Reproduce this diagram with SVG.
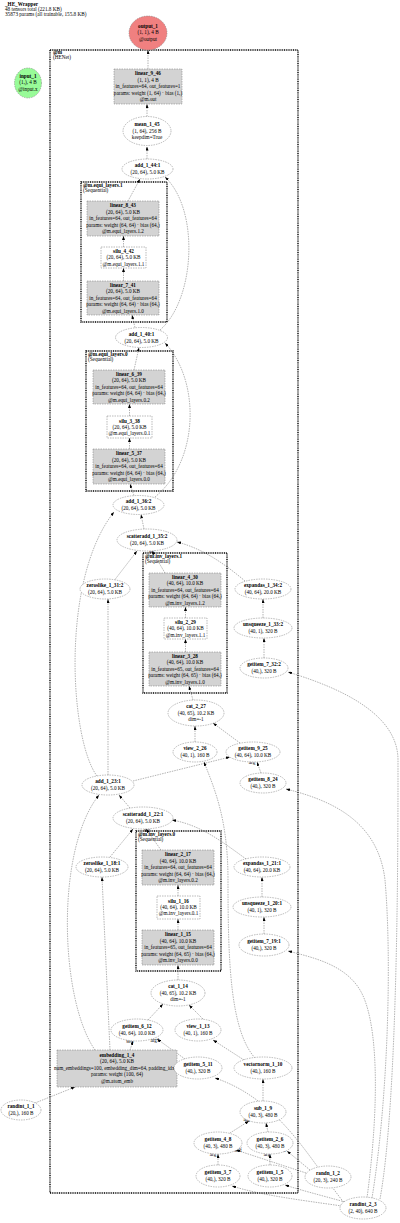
<svg xmlns="http://www.w3.org/2000/svg" width="400" height="1223" viewBox="0 0 400 1223">
<style>
text{font-family:"Liberation Serif","Times New Roman",serif;font-size:5.2px;fill:#000}
.m{text-anchor:middle}
.b{font-weight:bold}
.l{font-size:3.6px}
.n{fill:#fff;stroke:#777;stroke-width:.5;stroke-dasharray:1.5,1}
.g{fill:#d3d3d3}
.c{fill:none;stroke:#000;stroke-width:1.4;stroke-dasharray:1,.8}
.e path{fill:none;stroke:#555;stroke-width:.45;stroke-dasharray:1.5,1;marker-end:url(#a)}
</style>
<defs>
<marker id="a" markerUnits="userSpaceOnUse" markerWidth="4" markerHeight="3" refX="4" refY="1.5" orient="auto"><path d="M0,0L4,1.5L0,3z" fill="#000"/></marker>
</defs>
<rect width="400" height="1223" fill="#fff"/>
<g id="header">
<text x="5" y="5.5" class="b">_HE_Wrapper</text>
<text x="5" y="10.5">48 tensors total (221.8 KB)</text>
<text x="5" y="15.5">35873 params (all trainable, 155.8 KB)</text>
</g>
<g id="clusters">
<rect class="c" x="50" y="50" width="248" height="1143"/>
<text x="53" y="54.3" class="b">@m</text><text x="53" y="58.7">(HENet)</text>
<rect class="c" x="81" y="182" width="86" height="140"/>
<text x="83" y="187.3" class="b">@m.equi_layers.1</text><text x="83" y="191.7">(Sequential)</text>
<rect class="c" x="86" y="351" width="87" height="140"/>
<text x="88" y="356.3" class="b">@m.equi_layers.0</text><text x="88" y="360.7">(Sequential)</text>
<rect class="c" x="143" y="553" width="84" height="140"/>
<text x="145" y="558.3" class="b">@m.inv_layers.1</text><text x="145" y="562.7">(Sequential)</text>
<rect class="c" x="136" y="831" width="85" height="140"/>
<text x="138" y="836.3" class="b">@m.inv_layers.0</text><text x="138" y="840.7">(Sequential)</text>
</g>
<g class="e" id="edges">
<path d="M148,69L148,50"/>
<path d="M147,116.5L147,104"/>
<path d="M147,159L147,146.5"/>
<path d="M128,201L140,179"/>
<path d="M123.5,247L123.5,236"/>
<path d="M123.5,281L123.5,268"/>
<path d="M135,327.5L132,315"/>
<path d="M160,330C195,300 200,210 165,177"/>
<path d="M134,370L139,347.5"/>
<path d="M129.5,416L129.5,404"/>
<path d="M129.5,449L129.5,438"/>
<path d="M134,495.5L130,484"/>
<path d="M155,497C200,460 200,380 165,343"/>
<path d="M144,529L141,514.5"/>
<path d="M115,579.5L137,551"/>
<path d="M165,573L152,551"/>
<path d="M245,581C220,560 200,548 177,542"/>
<path d="M263,618L263,599"/>
<path d="M264,658L264,638"/>
<path d="M380,1199C398,1100 398,850 398,760C398,710 330,685 288,672"/>
<path d="M185.5,652L185.5,639"/>
<path d="M185.5,618L185.5,607"/>
<path d="M193,700L189,686"/>
<path d="M195,742L195,726"/>
<path d="M240,743L213,723"/>
<path d="M133,781L230,757"/>
<path d="M261,773L257,762"/>
<path d="M372,1198C388,1100 392,960 385,880C378,820 330,800 286,789"/>
<path d="M108,775L108,599"/>
<path d="M97,776C70,740 60,580 114,512"/>
<path d="M255,1058C230,1030 228,960 228,880C228,820 215,790 204,762"/>
<path d="M130,808L119,795"/>
<path d="M110,857L133,829"/>
<path d="M161,850L146,829"/>
<path d="M246,859C220,840 200,825 172,820"/>
<path d="M262,897L262,877"/>
<path d="M264,934L264,917"/>
<path d="M367,1198C380,1100 378,1020 360,990C345,965 315,958 288,951"/>
<path d="M178,930L178,919"/>
<path d="M178,896L178,885"/>
<path d="M178,980L178,965"/>
<path d="M148,1020L163,1004"/>
<path d="M203,1019L189,1005"/>
<path d="M130,1050L133,1041"/>
<path d="M185,1059L157,1039"/>
<path d="M244,1060L213,1040"/>
<path d="M95,1050C60,1000 55,850 99,795"/>
<path d="M110,1050L102,877"/>
<path d="M35,1103L75,1087"/>
<path d="M345,1204C310,1160 280,1100 215,1078"/>
<path d="M263,1101L263,1079"/>
<path d="M230,1133L249,1121"/>
<path d="M268,1132L266,1123"/>
<path d="M218,1165L218,1154"/>
<path d="M270,1165L270,1154"/>
<path d="M306,1173L236,1150"/>
<path d="M310,1170L287,1151"/>
<path d="M342,1206C300,1200 260,1195 232,1186"/>
<path d="M345,1202C320,1195 300,1190 285,1185"/>
</g>
<g id="edge-labels" class="l">
<text x="152" y="553" class="m">src</text>
<text x="147" y="832" class="m">src</text>
<text x="252" y="764" class="m">arg</text>
<text x="130" y="1043" class="m">self</text>
<text x="155" y="1042" class="m">arg1</text>
<text x="248" y="1121" class="m">arg0</text>
<text x="262" y="1122" class="m">arg1</text>
<text x="213" y="1156" class="m">arg</text>
<text x="267" y="1156" class="m">arg</text>
<text x="238" y="1152" class="m">self</text>
<text x="282" y="1152" class="m">self</text>
</g>
<g id="output_1"><ellipse cx="148" cy="33" rx="19" ry="17" class="n" style="fill:#f08080"/>
<text x="148" y="27.7" class="m b">output_1</text><text x="148" y="34.3" class="m">(1, 1), 4 B</text><text x="148" y="40.9" class="m">@output</text></g>
<g id="input_1"><ellipse cx="28" cy="83" rx="13.5" ry="15" class="n" style="fill:#98fb98"/>
<text x="28" y="78" class="m b">input_1</text><text x="28" y="84.4" class="m">(1,), 4 B</text><text x="28" y="90.8" class="m">@input.x</text></g>
<g id="linear_9_46"><rect x="114" y="69" width="68" height="35" class="n g"/>
<text x="148" y="75.3" class="m b">linear_9_46</text><text x="148" y="81.7" class="m">(1, 1), 4 B</text><text x="148" y="88.1" class="m">in_features=64, out_features=1</text><text x="148" y="94.5" class="m">params: weight (1, 64) · bias (1,)</text><text x="148" y="100.9" class="m">@m.out</text></g>
<g id="mean_1_45"><ellipse cx="147" cy="131" rx="24" ry="14.5" class="n"/>
<text x="147" y="126" class="m b">mean_1_45</text><text x="147" y="132.6" class="m">(1, 64), 256 B</text><text x="147" y="139.2" class="m">keepdim=True</text></g>
<g id="add_1_44"><ellipse cx="147.5" cy="169" rx="25.5" ry="10" class="n"/>
<text x="147.5" y="167.3" class="m b">add_1_44:1</text><text x="147.5" y="174" class="m">(20, 64), 5.0 KB</text></g>
<g id="linear_8_43"><rect x="87" y="201" width="72" height="35" class="n g"/>
<text x="123" y="207.3" class="m b">linear_8_43</text><text x="123" y="213.7" class="m">(20, 64), 5.0 KB</text><text x="123" y="220.1" class="m">in_features=64, out_features=64</text><text x="123" y="226.5" class="m">params: weight (64, 64) · bias (64,)</text><text x="123" y="232.9" class="m">@m.equi_layers.1.2</text></g>
<g id="silu_4_42"><rect x="101" y="247" width="45" height="21" class="n"/>
<text x="123.5" y="253" class="m b">silu_4_42</text><text x="123.5" y="259.3" class="m">(20, 64), 5.0 KB</text><text x="123.5" y="265.6" class="m">@m.equi_layers.1.1</text></g>
<g id="linear_7_41"><rect x="87" y="281" width="72" height="34" class="n g"/>
<text x="123" y="287" class="m b">linear_7_41</text><text x="123" y="293.4" class="m">(20, 64), 5.0 KB</text><text x="123" y="299.8" class="m">in_features=64, out_features=64</text><text x="123" y="306.2" class="m">params: weight (64, 64) · bias (64,)</text><text x="123" y="312.6" class="m">@m.equi_layers.1.0</text></g>
<g id="add_1_40"><ellipse cx="141.5" cy="337.5" rx="26" ry="10" class="n"/>
<text x="141.5" y="335.8" class="m b">add_1_40:1</text><text x="141.5" y="342.5" class="m">(20, 64), 5.0 KB</text></g>
<g id="linear_6_39"><rect x="93" y="370" width="72" height="34" class="n g"/>
<text x="129" y="376" class="m b">linear_6_39</text><text x="129" y="382.4" class="m">(20, 64), 5.0 KB</text><text x="129" y="388.8" class="m">in_features=64, out_features=64</text><text x="129" y="395.2" class="m">params: weight (64, 64) · bias (64,)</text><text x="129" y="401.6" class="m">@m.equi_layers.0.2</text></g>
<g id="silu_3_38"><rect x="107" y="416" width="45" height="22" class="n"/>
<text x="129.5" y="422.5" class="m b">silu_3_38</text><text x="129.5" y="428.8" class="m">(20, 64), 5.0 KB</text><text x="129.5" y="435.1" class="m">@m.equi_layers.0.1</text></g>
<g id="linear_5_37"><rect x="93" y="449" width="72" height="35" class="n g"/>
<text x="129" y="455.3" class="m b">linear_5_37</text><text x="129" y="461.7" class="m">(20, 64), 5.0 KB</text><text x="129" y="468.1" class="m">in_features=64, out_features=64</text><text x="129" y="474.5" class="m">params: weight (64, 64) · bias (64,)</text><text x="129" y="480.9" class="m">@m.equi_layers.0.0</text></g>
<g id="add_1_36"><ellipse cx="138.5" cy="505" rx="25.5" ry="9.5" class="n"/>
<text x="138.5" y="503.3" class="m b">add_1_36:2</text><text x="138.5" y="510" class="m">(20, 64), 5.0 KB</text></g>
<g id="scatteradd_1_35"><ellipse cx="147" cy="540" rx="30" ry="11" class="n"/>
<text x="147" y="538.3" class="m b">scatteradd_1_35:2</text><text x="147" y="545" class="m">(20, 64), 5.0 KB</text></g>
<g id="zeroslike_1_31"><ellipse cx="105" cy="589" rx="25" ry="10" class="n"/>
<text x="105" y="587.3" class="m b">zeroslike_1_31:2</text><text x="105" y="594" class="m">(20, 64), 5.0 KB</text></g>
<g id="expandas_1_34"><ellipse cx="263" cy="589" rx="28" ry="10" class="n"/>
<text x="263" y="587.3" class="m b">expandas_1_34:2</text><text x="263" y="594" class="m">(40, 64), 20.0 KB</text></g>
<g id="linear_4_30"><rect x="149" y="573" width="72" height="34" class="n g"/>
<text x="185" y="579" class="m b">linear_4_30</text><text x="185" y="585.4" class="m">(40, 64), 10.0 KB</text><text x="185" y="591.8" class="m">in_features=64, out_features=64</text><text x="185" y="598.2" class="m">params: weight (64, 64) · bias (64,)</text><text x="185" y="604.6" class="m">@m.inv_layers.1.2</text></g>
<g id="silu_2_29"><rect x="164" y="618" width="43" height="21" class="n"/>
<text x="185.5" y="624" class="m b">silu_2_29</text><text x="185.5" y="630.3" class="m">(40, 64), 10.0 KB</text><text x="185.5" y="636.6" class="m">@m.inv_layers.1.1</text></g>
<g id="linear_3_28"><rect x="149" y="652" width="72" height="34" class="n g"/>
<text x="185" y="658" class="m b">linear_3_28</text><text x="185" y="664.4" class="m">(40, 64), 10.0 KB</text><text x="185" y="670.8" class="m">in_features=65, out_features=64</text><text x="185" y="677.2" class="m">params: weight (64, 65) · bias (64,)</text><text x="185" y="683.6" class="m">@m.inv_layers.1.0</text></g>
<g id="unsqueeze_1_33"><ellipse cx="263" cy="628" rx="29" ry="10" class="n"/>
<text x="263" y="626.3" class="m b">unsqueeze_1_33:2</text><text x="263" y="633" class="m">(40, 1), 320 B</text></g>
<g id="getitem_7_32"><ellipse cx="264" cy="668" rx="24" ry="10" class="n"/>
<text x="264" y="666.3" class="m b">getitem_7_32:2</text><text x="264" y="673" class="m">(40,), 320 B</text></g>
<g id="cat_2_27"><ellipse cx="196" cy="713" rx="28" ry="13" class="n"/>
<text x="196" y="708" class="m b">cat_2_27</text><text x="196" y="714.6" class="m">(40, 65), 10.2 KB</text><text x="196" y="721.2" class="m">dim=-1</text></g>
<g id="view_2_26"><ellipse cx="195" cy="752" rx="22" ry="10" class="n"/>
<text x="195" y="750.3" class="m b">view_2_26</text><text x="195" y="757" class="m">(40, 1), 160 B</text></g>
<g id="getitem_9_25"><ellipse cx="253" cy="752" rx="27" ry="10" class="n"/>
<text x="253" y="750.3" class="m b">getitem_9_25</text><text x="253" y="757" class="m">(40, 64), 10.0 KB</text></g>
<g id="getitem_8_24"><ellipse cx="263" cy="783" rx="23" ry="10" class="n"/>
<text x="263" y="781.3" class="m b">getitem_8_24</text><text x="263" y="788" class="m">(40,), 320 B</text></g>
<g id="add_1_23"><ellipse cx="108" cy="785" rx="26" ry="10" class="n"/>
<text x="108" y="783.3" class="m b">add_1_23:1</text><text x="108" y="790" class="m">(20, 64), 5.0 KB</text></g>
<g id="scatteradd_1_22"><ellipse cx="143" cy="818" rx="30" ry="11" class="n"/>
<text x="143" y="816.3" class="m b">scatteradd_1_22:1</text><text x="143" y="823" class="m">(20, 64), 5.0 KB</text></g>
<g id="linear_2_17"><rect x="142" y="850" width="72" height="35" class="n g"/>
<text x="178" y="856.3" class="m b">linear_2_17</text><text x="178" y="862.7" class="m">(40, 64), 10.0 KB</text><text x="178" y="869.1" class="m">in_features=64, out_features=64</text><text x="178" y="875.5" class="m">params: weight (64, 64) · bias (64,)</text><text x="178" y="881.9" class="m">@m.inv_layers.0.2</text></g>
<g id="silu_1_16"><rect x="157" y="896" width="43" height="23" class="n"/>
<text x="178.5" y="902.8" class="m b">silu_1_16</text><text x="178.5" y="909.1" class="m">(40, 64), 10.0 KB</text><text x="178.5" y="915.4" class="m">@m.inv_layers.0.1</text></g>
<g id="linear_1_15"><rect x="142" y="930" width="72" height="35" class="n g"/>
<text x="178" y="936.3" class="m b">linear_1_15</text><text x="178" y="942.7" class="m">(40, 64), 10.0 KB</text><text x="178" y="949.1" class="m">in_features=65, out_features=64</text><text x="178" y="955.5" class="m">params: weight (64, 65) · bias (64,)</text><text x="178" y="961.9" class="m">@m.inv_layers.0.0</text></g>
<g id="zeroslike_1_18"><ellipse cx="102" cy="867" rx="26" ry="10" class="n"/>
<text x="102" y="865.3" class="m b">zeroslike_1_18:1</text><text x="102" y="872" class="m">(20, 64), 5.0 KB</text></g>
<g id="expandas_1_21"><ellipse cx="262" cy="867" rx="28" ry="10" class="n"/>
<text x="262" y="865.3" class="m b">expandas_1_21:1</text><text x="262" y="872" class="m">(40, 64), 20.0 KB</text></g>
<g id="unsqueeze_1_20"><ellipse cx="262" cy="907" rx="29" ry="10" class="n"/>
<text x="262" y="905.3" class="m b">unsqueeze_1_20:1</text><text x="262" y="912" class="m">(40, 1), 320 B</text></g>
<g id="getitem_7_19"><ellipse cx="264" cy="945" rx="25" ry="11" class="n"/>
<text x="264" y="943.3" class="m b">getitem_7_19:1</text><text x="264" y="950" class="m">(40,), 320 B</text></g>
<g id="cat_1_14"><ellipse cx="178" cy="993" rx="27" ry="13" class="n"/>
<text x="178" y="988" class="m b">cat_1_14</text><text x="178" y="994.6" class="m">(40, 65), 10.2 KB</text><text x="178" y="1001.2" class="m">dim=-1</text></g>
<g id="getitem_6_12"><ellipse cx="137" cy="1030" rx="26" ry="11" class="n"/>
<text x="137" y="1028.3" class="m b">getitem_6_12</text><text x="137" y="1035" class="m">(40, 64), 10.0 KB</text></g>
<g id="view_1_13"><ellipse cx="198" cy="1030" rx="23" ry="11" class="n"/>
<text x="198" y="1028.3" class="m b">view_1_13</text><text x="198" y="1035" class="m">(40, 1), 160 B</text></g>
<g id="embedding_1_4"><rect x="57" y="1050" width="120" height="37" class="n g"/>
<text x="117" y="1057" class="m b">embedding_1_4</text><text x="117" y="1063.4" class="m">(20, 64), 5.0 KB</text><text x="117" y="1069.8" class="m">num_embeddings=100, embedding_dim=64, padding_idx=0</text><text x="117" y="1076.2" class="m">params: weight (100, 64)</text><text x="117" y="1082.6" class="m">@m.atom_emb</text></g>
<g id="getitem_5_11"><ellipse cx="198" cy="1068" rx="24" ry="11" class="n"/>
<text x="198" y="1066.3" class="m b">getitem_5_11</text><text x="198" y="1073" class="m">(40,), 320 B</text></g>
<g id="vectornorm_1_10"><ellipse cx="263" cy="1068" rx="29" ry="11" class="n"/>
<text x="263" y="1066.3" class="m b">vectornorm_1_10</text><text x="263" y="1073" class="m">(40,), 160 B</text></g>
<g id="randint_1_1"><ellipse cx="21" cy="1110" rx="20" ry="10" class="n"/>
<text x="21" y="1108.3" class="m b">randint_1_1</text><text x="21" y="1115" class="m">(20,), 160 B</text></g>
<g id="sub_1_9"><ellipse cx="263" cy="1112" rx="23" ry="11" class="n"/>
<text x="263" y="1110.3" class="m b">sub_1_9</text><text x="263" y="1117" class="m">(40, 3), 480 B</text></g>
<g id="getitem_4_8"><ellipse cx="218" cy="1143" rx="24" ry="11" class="n"/>
<text x="218" y="1141.3" class="m b">getitem_4_8</text><text x="218" y="1148" class="m">(40, 3), 480 B</text></g>
<g id="getitem_2_6"><ellipse cx="270" cy="1143" rx="23" ry="11" class="n"/>
<text x="270" y="1141.3" class="m b">getitem_2_6</text><text x="270" y="1148" class="m">(40, 3), 480 B</text></g>
<g id="getitem_3_7"><ellipse cx="218" cy="1176" rx="22" ry="11" class="n"/>
<text x="218" y="1174.3" class="m b">getitem_3_7</text><text x="218" y="1181" class="m">(40,), 320 B</text></g>
<g id="getitem_1_5"><ellipse cx="270" cy="1176" rx="22" ry="11" class="n"/>
<text x="270" y="1174.3" class="m b">getitem_1_5</text><text x="270" y="1181" class="m">(40,), 320 B</text></g>
<g id="randn_1_2"><ellipse cx="328" cy="1177" rx="23" ry="11" class="n"/>
<text x="328" y="1175.3" class="m b">randn_1_2</text><text x="328" y="1182" class="m">(20, 3), 240 B</text></g>
<g id="randint_2_3"><ellipse cx="363" cy="1208" rx="23" ry="11" class="n"/>
<text x="363" y="1206.3" class="m b">randint_2_3</text><text x="363" y="1213" class="m">(2, 40), 640 B</text></g>
</svg>
